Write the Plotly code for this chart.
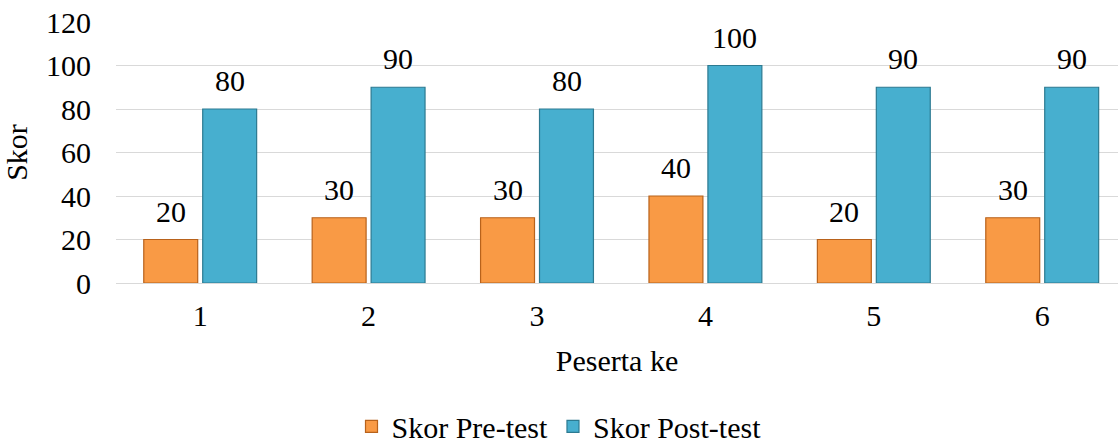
import plotly.graph_objects as go

# Scores per participant
peserta = ["1", "2", "3", "4", "5", "6"]
pre_test = [20, 30, 30, 40, 20, 30]
post_test = [80, 90, 80, 100, 90, 90]

series_names = ["Skor Pre-test", "Skor Post-test"]
fill_colors = ["#F99A45", "#47AFCF"]
edge_colors = ["#B8621B", "#2C7A91"]

FONT = "Times New Roman"
FS = 30

fig = go.Figure()
for name, vals, fc, ec in zip(series_names, [pre_test, post_test], fill_colors, edge_colors):
    fig.add_trace(go.Bar(
        x=peserta, y=vals, name=name,
        marker=dict(color=fc, line=dict(color=ec, width=1.2)),
    ))

# value labels above each bar (category index positions, shifted to each bar slot)
slot_shift = 29.5
for i, vals in enumerate([pre_test, post_test]):
    for k, v in enumerate(vals):
        fig.add_annotation(
            x=k, y=v, text=str(v), showarrow=False,
            xshift=(-slot_shift if i == 0 else slot_shift),
            yanchor="bottom", yshift=10,
            font=dict(family=FONT, size=FS, color="#000000"),
        )

fig.update_layout(
    width=1118, height=443,
    margin=dict(l=116, r=0, t=22, b=160, autoexpand=False),
    paper_bgcolor="white", plot_bgcolor="white",
    font=dict(family=FONT, size=FS, color="#000000"),
    barmode="group", bargap=0.3, bargroupgap=0.085,
    showlegend=True,
    legend=dict(
        orientation="h", xref="container", yref="paper",
        x=0.5, xanchor="center", y=-0.45, yanchor="top",
        font=dict(family=FONT, size=FS), itemwidth=30,
        traceorder="normal",
    ),
    xaxis=dict(
        type="category", range=[-0.5, 5.45],
        showgrid=False, showline=True, linecolor="#D9D9D9", linewidth=1,
        ticks="", ticklabelstandoff=6,
        tickfont=dict(family=FONT, size=FS),
        title=dict(text="Peserta ke", standoff=18, font=dict(family=FONT, size=FS)),
    ),
    yaxis=dict(
        range=[0, 120], dtick=20, showgrid=True, gridcolor="#D9D9D9", gridwidth=1,
        zeroline=False, showline=False, ticks="", ticklabelstandoff=24,
        tickfont=dict(family=FONT, size=FS),
        title=dict(text="Skor", standoff=12, font=dict(family=FONT, size=FS)),
    ),
)

fig.write_html("out.html")
